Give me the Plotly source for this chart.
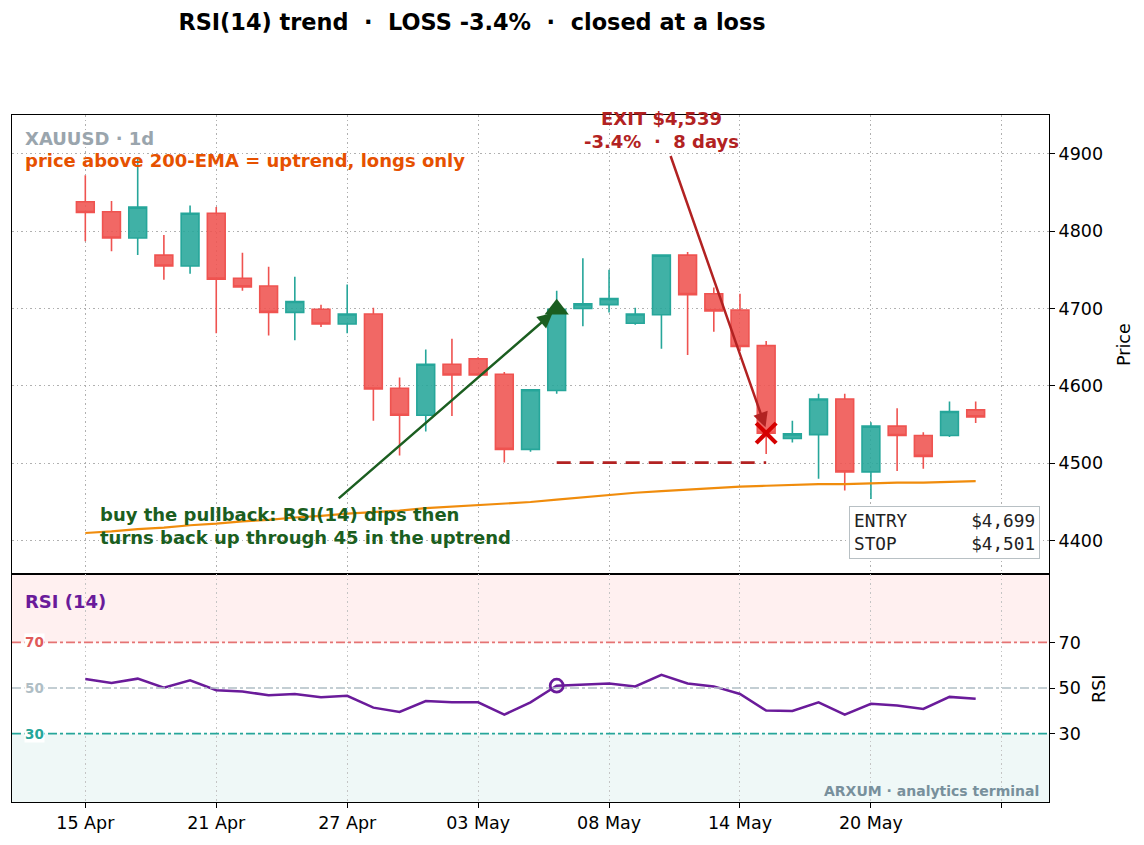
import plotly.graph_objects as go

# ---------------- data ----------------
bar_idx = list(range(35))
tick_pos = [0, 5, 10, 15, 20, 25, 30, 35]
tick_labels = ["15 Apr", "21 Apr", "27 Apr", "03 May", "08 May", "14 May", "20 May", ""]

opens = [4838, 4825, 4791, 4769, 4755, 4823, 4739, 4729, 4695, 4699, 4680, 4693, 4597, 4562,
         4628, 4635, 4615, 4518, 4594, 4700, 4705, 4681, 4692, 4769, 4719, 4698, 4652, 4532,
         4537, 4583, 4489, 4548, 4536, 4536, 4569]
closes = [4824, 4791, 4831, 4755, 4823, 4738, 4728, 4695, 4709, 4680, 4693, 4596, 4562, 4628,
          4614, 4614, 4518, 4595, 4699, 4706, 4713, 4693, 4769, 4718, 4697, 4651, 4539, 4538,
          4583, 4489, 4548, 4536, 4509, 4567, 4560]
highs = [4872, 4839, 4895, 4795, 4833, 4831, 4772, 4754, 4741, 4705, 4731, 4701, 4611, 4647,
         4661, 4637, 4618, 4596, 4723, 4765, 4750, 4701, 4770, 4773, 4727, 4719, 4658, 4555,
         4590, 4590, 4553, 4571, 4540, 4580, 4580]
lows = [4787, 4774, 4769, 4737, 4745, 4668, 4723, 4665, 4659, 4676, 4668, 4555, 4510, 4541,
        4561, 4613, 4501, 4515, 4590, 4677, 4695, 4679, 4648, 4640, 4670, 4645, 4512, 4527,
        4480, 4465, 4454, 4490, 4493, 4534, 4552]
ema200 = [4410, 4412, 4415, 4417, 4420, 4422, 4425, 4427, 4430, 4432, 4435, 4437, 4439, 4442,
          4444, 4446, 4448, 4450, 4453, 4456, 4459, 4462, 4464, 4466, 4468, 4470, 4471, 4472,
          4473, 4473, 4474, 4475, 4475, 4476, 4477]
rsi = [53.9, 52.2, 54.1, 50.1, 53.4, 49.0, 48.5, 46.8, 47.4, 45.9, 46.6, 41.4, 39.5, 44.3,
       43.7, 43.7, 38.3, 43.7, 51.0, 51.6, 52.0, 50.7, 55.8, 52.0, 50.7, 47.4, 40.1, 39.9,
       43.7, 38.3, 43.1, 42.3, 40.8, 46.1, 45.3]

entry_idx, exit_idx = 18, 26
entry_price, exit_price, stop_price = 4699, 4539, 4501
rsi_levels = [70, 50, 30]

# ---------------- geometry helpers (pixel -> paper) ----------------
W, H = 1144, 845
L, R, T, B = 12, 1049, 115, 802
SPLIT = 574


def px(x):
    return (x - L) / (R - L)


def py(y):
    return (B - y) / (B - T)


split_frac = py(SPLIT)
FONT = "DejaVu Sans"
NB = "\u00a0"
ANN = 18

UP = "#26a69a"
DN = "#ef5350"

fig = go.Figure()

fig.add_trace(go.Candlestick(
    x=bar_idx, open=opens, high=highs, low=lows, close=closes,
    increasing=dict(line=dict(color=UP, width=1.6), fillcolor="rgba(38,166,154,0.88)"),
    decreasing=dict(line=dict(color=DN, width=1.6), fillcolor="rgba(239,83,80,0.88)"),
    whiskerwidth=0, showlegend=False, xaxis="x", yaxis="y", hoverinfo="skip"))

fig.add_trace(go.Scatter(x=bar_idx, y=ema200, mode="lines",
                         line=dict(color="#f08c0c", width=2.2), showlegend=False,
                         xaxis="x", yaxis="y", hoverinfo="skip"))

fig.add_trace(go.Scatter(x=[entry_idx, exit_idx], y=[stop_price, stop_price], mode="lines",
                         line=dict(color="#b22222", width=2.8, dash="14px,9px"),
                         showlegend=False, xaxis="x", yaxis="y", hoverinfo="skip"))

fig.add_trace(go.Scatter(x=[entry_idx], y=[entry_price], mode="markers",
                         marker=dict(symbol="triangle-up", size=21, color="#1b5e20"),
                         showlegend=False, xaxis="x", yaxis="y", hoverinfo="skip"))

fig.add_trace(go.Scatter(x=[exit_idx], y=[exit_price], mode="markers",
                         marker=dict(symbol="x-thin", size=20, color="#d50000",
                                     line=dict(color="#d50000", width=4.2)),
                         showlegend=False, xaxis="x", yaxis="y", hoverinfo="skip"))

# RSI panel
fig.add_trace(go.Scatter(x=bar_idx, y=rsi, mode="lines",
                         line=dict(color="#6a1b9a", width=2.5), showlegend=False,
                         xaxis="x2", yaxis="y2", hoverinfo="skip"))
fig.add_trace(go.Scatter(x=[entry_idx], y=[rsi[entry_idx]], mode="markers",
                         marker=dict(symbol="circle-open", size=13, color="#6a1b9a",
                                     line=dict(color="#6a1b9a", width=2.8)),
                         showlegend=False, xaxis="x2", yaxis="y2", hoverinfo="skip"))

shapes = [
    dict(type="rect", xref="x2 domain", yref="y2", x0=0, x1=1, y0=70, y1=100,
         fillcolor="#fff0f0", line=dict(width=0), layer="below"),
    dict(type="rect", xref="x2 domain", yref="y2", x0=0, x1=1, y0=0, y1=30,
         fillcolor="#eff8f7", line=dict(width=0), layer="below"),
]
level_colors = ["#e57373", "#b0bec5", "#26a69a"]
for lv, c in zip(rsi_levels, level_colors):
    shapes.append(dict(type="line", xref="x2 domain", yref="y2", x0=0, x1=1, y0=lv, y1=lv,
                       line=dict(color=c, width=1.6, dash="dashdot"), layer="above"))

annotations = []
label_colors = ["#e05a5a", "#b0bec5", "#26a69a"]
for lv, c in zip(rsi_levels, label_colors):
    annotations.append(dict(xref="paper", yref="y2", x=px(34), y=lv, text=f"<b>{lv}</b>",
                            showarrow=False, xanchor="center", yanchor="middle",
                            font=dict(family=FONT, size=13.5, color=c), bgcolor="white",
                            borderpad=0))

annotations += [
    dict(xref="paper", yref="paper", x=px(23), y=py(139), text="<b>XAUUSD · 1d</b>",
         showarrow=False, xanchor="left", yanchor="middle",
         font=dict(family=FONT, size=ANN, color="#9aa5ad")),
    dict(xref="paper", yref="paper", x=px(23), y=py(160),
         text="<b>price above 200-EMA = uptrend, longs only</b>",
         showarrow=False, xanchor="left", yanchor="middle",
         font=dict(family=FONT, size=ANN, color="#e65100")),
    dict(xref="paper", yref="paper", x=px(98), y=py(526),
         text="<b>buy the pullback: RSI(14) dips then<br>turns back up through 45 in the uptrend</b>",
         showarrow=False, xanchor="left", yanchor="middle", align="left",
         font=dict(family=FONT, size=ANN, color="#1b5e20")),
    dict(xref="paper", yref="paper", x=px(661), y=py(130),
         text=f"<b>EXIT $4,539<br>-3.4%{NB}{NB}·{NB}{NB}8 days</b>",
         showarrow=False, xanchor="center", yanchor="middle", align="center",
         font=dict(family=FONT, size=ANN, color="#b22222")),
    # arrows
    dict(xref="x", yref="y", x=entry_idx - 0.1, y=entry_price - 3, axref="x", ayref="y",
         ax=9.62, ay=4453, text="", showarrow=True, arrowhead=2, arrowsize=1.2,
         arrowwidth=2.5, arrowcolor="#1b5e20", standoff=2),
    dict(xref="x", yref="y", x=exit_idx, y=exit_price + 5, axref="x", ayref="y",
         ax=22.33, ay=4899, text="", showarrow=True, arrowhead=2, arrowsize=1.2,
         arrowwidth=2.5, arrowcolor="#b22222", standoff=2),
    # entry / stop box
    dict(xref="paper", yref="paper", x=px(1040), y=py(559),
         text=f"ENTRY{NB * 6}$4,699<br>STOP{NB * 7}$4,501",
         showarrow=False, xanchor="right", yanchor="bottom", align="left",
         font=dict(family="DejaVu Sans Mono", size=17.7, color="#222222"),
         bgcolor="white", bordercolor="#b8c0c4", borderwidth=1, borderpad=4),
    # RSI panel texts
    dict(xref="paper", yref="paper", x=px(23), y=py(601), text="<b>RSI (14)</b>",
         showarrow=False, xanchor="left", yanchor="middle",
         font=dict(family=FONT, size=ANN, color="#6a1b9a")),
    dict(xref="paper", yref="paper", x=px(1041), y=py(791),
         text="<b>ARXUM · analytics terminal</b>",
         showarrow=False, xanchor="right", yanchor="middle",
         font=dict(family=FONT, size=14, color="#78909c")),
    # axis titles
    dict(xref="paper", yref="paper", x=px(1124), y=py(345), text="Price", textangle=-90,
         showarrow=False, xanchor="center", yanchor="middle",
         font=dict(family=FONT, size=17.5, color="black")),
    dict(xref="paper", yref="paper", x=px(1099), y=py(689), text="RSI", textangle=-90,
         showarrow=False, xanchor="center", yanchor="middle",
         font=dict(family=FONT, size=17.5, color="black")),
]

grid = dict(showgrid=True, gridcolor="#b0b0b0", griddash="1.5px,3px", gridwidth=1.2)
xrange = [-2.8, 36.8]
TICKF = dict(family=FONT, size=17.5, color="black")

fig.update_layout(
    width=W, height=H,
    margin=dict(l=L, r=W - R, t=T, b=H - B),
    paper_bgcolor="white", plot_bgcolor="white",
    font=dict(family=FONT, size=17.5, color="black"),
    title=dict(text=f"<b>RSI(14) trend{NB}{NB}·{NB}{NB}LOSS -3.4%{NB}{NB}·{NB}{NB}closed at a loss</b>",
               x=472 / W, xref="container", xanchor="center",
               y=1 - 22 / H, yref="container", yanchor="middle",
               font=dict(family=FONT, size=22.4, color="black")),
    boxgap=0.32, boxgroupgap=0,
    xaxis=dict(domain=[0, 1], anchor="y", range=xrange, tickvals=tick_pos, ticktext=tick_labels,
               showticklabels=False, ticks="", showline=True, mirror=True, linecolor="black",
               linewidth=1.2, rangeslider=dict(visible=False), zeroline=False,
               matches="x2", **grid),
    yaxis=dict(domain=[split_frac, 1], anchor="x", side="right", range=[4357, 4950],
               tickvals=[4400, 4500, 4600, 4700, 4800, 4900], ticks="outside", ticklen=5,
               tickcolor="black", showline=True, mirror=True, linecolor="black", linewidth=1.2,
               zeroline=False, tickfont=TICKF, **grid),
    xaxis2=dict(domain=[0, 1], anchor="y2", range=xrange, tickvals=tick_pos, ticktext=tick_labels,
                ticks="outside", ticklen=5, tickcolor="black", showline=True, mirror=True,
                linecolor="black", linewidth=1.2, zeroline=False, tickfont=TICKF,
                showgrid=True, gridcolor="#c4c4c4", griddash="1.5px,3px", gridwidth=1.2),
    yaxis2=dict(domain=[0, split_frac], anchor="x2", side="right", range=[0, 100],
                tickvals=rsi_levels, ticks="outside", ticklen=5, tickcolor="black",
                showline=True, mirror=True, linecolor="black", linewidth=1.2, zeroline=False,
                showgrid=False, tickfont=TICKF),
    shapes=shapes,
    annotations=annotations,
)

fig.write_html("out.html")
